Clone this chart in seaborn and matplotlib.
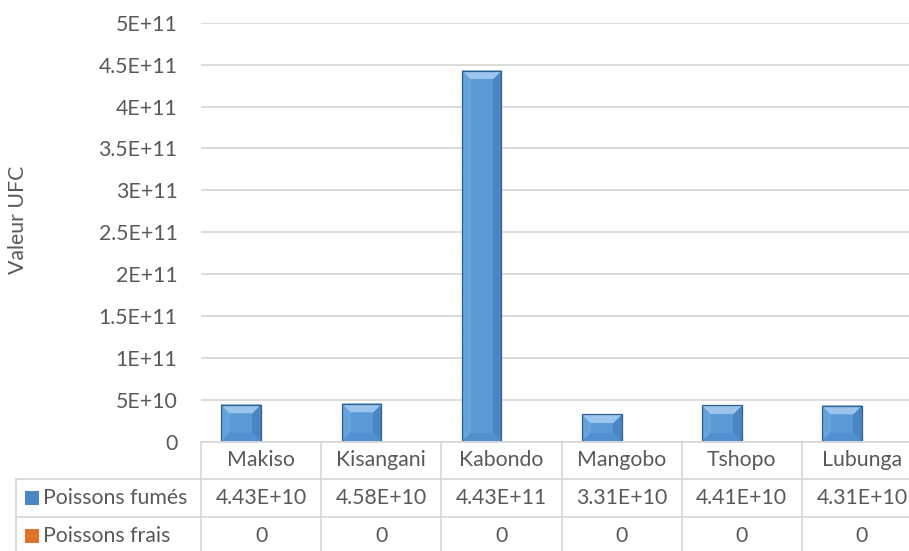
import matplotlib
matplotlib.use("Agg")
import matplotlib.pyplot as plt
import matplotlib.transforms as mtransforms
from matplotlib.patches import Rectangle
from matplotlib.lines import Line2D
import matplotlib.colors as mcolors
import numpy as np
import seaborn as sns
import pandas as pd

# ---- data ----
categories = ["Makiso", "Kisangani", "Kabondo", "Mangobo", "Tshopo", "Lubunga"]
series_names = ["Poissons fumés", "Poissons frais"]
fumes = [4.43e10, 4.58e10, 4.43e11, 3.31e10, 4.41e10, 4.31e10]
frais = [0, 0, 0, 0, 0, 0]
y_ticks = [0, 5e10, 1e11, 1.5e11, 2e11, 2.5e11, 3e11, 3.5e11, 4e11, 4.5e11, 5e11]
y_title = "Valeur UFC"

series_values = [fumes, frais]
colors = ["#5B9BD5", "#ED7D31"]
key_colors = ["#4A86C5", "#E0702A"]

rows = []
for name, vals in zip(series_names, series_values):
    for c, v in zip(categories, vals):
        rows.append({"cat": c, "serie": name, "val": v})
df = pd.DataFrame(rows)

sns.set_theme(style="white")
plt.rcParams["font.family"] = ["Lato", "DejaVu Sans"]

W, H = 909, 551
fig = plt.figure(figsize=(W / 100, H / 100), dpi=100)
x0, x1 = 201, 922
y_top, y_base = 22.7, 442
ax = fig.add_axes([x0 / W, 1 - y_base / H, (x1 - x0) / W, (y_base - y_top) / H])

text_col = "#595959"
grid_col = "#D9D9D9"
fs = 15.3

sns.barplot(data=df, x="cat", y="val", hue="serie", order=categories,
            hue_order=series_names, palette=colors, width=0.66, ax=ax,
            legend=False, saturation=1, linewidth=0)

ax.set_xlim(-0.5, len(categories) - 0.5)
ax.set_ylim(0, y_ticks[-1])
ax.set_yticks(y_ticks)

# bevel shading for visible bars
fig.canvas.draw()
c_top = np.array(mcolors.to_rgb("#9CC4EC"))
c_left = np.array(mcolors.to_rgb("#66A2DB"))
c_mid = np.array(mcolors.to_rgb("#5B9BD5"))
c_right = np.array(mcolors.to_rgb("#4A85C4"))
c_bot = np.array(mcolors.to_rgb("#5190CE"))
for p in list(ax.patches):
    if p.get_height() <= 0:
        continue
    bb = p.get_window_extent()
    wpx, hpx = int(round(bb.width)), int(round(bb.height))
    b = 9
    img = np.zeros((hpx, wpx, 3))
    for yy in range(hpx):
        for xx in range(wpx):
            d = {"t": yy, "b": hpx - 1 - yy, "l": xx, "r": wpx - 1 - xx}
            k = min(d, key=d.get)
            if d[k] >= b:
                img[yy, xx] = c_mid
            else:
                img[yy, xx] = {"t": c_top, "b": c_bot, "l": c_left, "r": c_right}[k]
    x_l, y_b = p.get_x(), p.get_y()
    ax.imshow(img, extent=(x_l, x_l + p.get_width(), y_b, y_b + p.get_height()),
              aspect="auto", zorder=3, interpolation="bilinear")
    p.set_edgecolor("#2F5F8F")
    p.set_linewidth(0.9)
    p.set_facecolor("none")
    p.set_zorder(4)
ax.set_xlim(-0.5, len(categories) - 0.5)
ax.set_ylim(0, y_ticks[-1])


def fmt(v):
    if v == 0:
        return "0"
    m, e = f"{v:E}".split("E")
    m = m.rstrip("0").rstrip(".")
    return f"{m}E+{int(e):02d}"


ax.set_yticklabels([fmt(v) for v in y_ticks], fontsize=fs, color=text_col)
ax.tick_params(axis="y", length=0, pad=17)
ax.set_xticks([])
ax.set_xlabel("")
ax.set_ylabel("")
for s in ax.spines.values():
    s.set_visible(False)
ax.yaxis.grid(True, color=grid_col, linewidth=1.3)
ax.set_axisbelow(True)

fig.text(18 / W, 1 - 220 / H, y_title, rotation=90, ha="center", va="center",
         fontsize=fs, color=text_col)

# ---- data table ----
trans = mtransforms.blended_transform_factory(ax.transData, fig.transFigure)
fy = lambda px: 1 - px / H
fx = lambda px: px / W
n = len(categories)
lw = 1.3
fig.add_artist(Line2D([-0.5, n - 0.5], [fy(y_base)] * 2, transform=trans,
                      color=grid_col, lw=lw))
for ypx in (479, 517):
    fig.add_artist(Line2D([fx(16), fx(x1)], [fy(ypx)] * 2,
                          transform=fig.transFigure, color=grid_col, lw=lw))
for k in range(n + 1):
    fig.add_artist(Line2D([k - 0.5, k - 0.5], [fy(y_base), fy(560)],
                          transform=trans, color=grid_col, lw=lw))
fig.add_artist(Line2D([fx(16), fx(16)], [fy(479), fy(560)],
                      transform=fig.transFigure, color=grid_col, lw=lw))

for i, c in enumerate(categories):
    fig.text(i, fy(460), c, transform=trans, ha="center", va="center",
             fontsize=fs, color=text_col)
row_y = [498, 536]
for r, (name, vals) in enumerate(zip(series_names, series_values)):
    for i, v in enumerate(vals):
        label = "0" if v == 0 else f"{v:.2E}"
        fig.text(i, fy(row_y[r]), label, transform=trans, ha="center",
                 va="center", fontsize=fs, color=text_col)
    fig.add_artist(Rectangle((fx(25), fy(row_y[r] + 7)), fx(14), 14 / H,
                             transform=fig.transFigure, facecolor=key_colors[r],
                             edgecolor="none"))
    fig.text(fx(43), fy(row_y[r]), name, ha="left", va="center",
             fontsize=fs, color=text_col)

fig.savefig("out.png", dpi=100)
